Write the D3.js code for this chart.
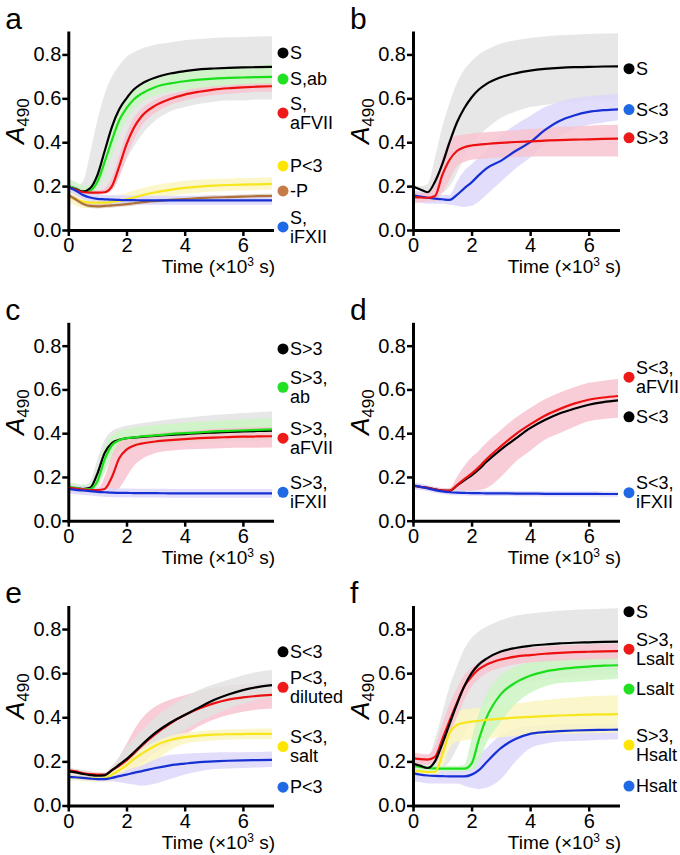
<!DOCTYPE html>
<html>
<head>
<meta charset="utf-8">
<script src="https://cdn.jsdelivr.net/npm/d3@7"></script>
<style>
  body { margin: 0; background: #fff; }
  svg { font-family: 'Liberation Sans', Arial, sans-serif; }
</style>
</head>
<body>
<div id="chart"></div>
<script>

// time points, x10^3 s
const time = [0, 0.25, 0.5, 0.75, 1, 1.25, 1.5, 1.75, 2, 2.25, 2.5, 3, 3.5, 4, 4.5, 5, 5.5, 6, 6.5, 7];

// panel a
const aS      = [0.195,0.185,0.175,0.19,0.25,0.36,0.47,0.55,0.60,0.64,0.665,0.695,0.713,0.724,0.732,0.736,0.739,0.741,0.742,0.743];
const aS_lo   = [0.19,0.18,0.17,0.17,0.17,0.18,0.20,0.25,0.32,0.38,0.43,0.50,0.54,0.56,0.575,0.585,0.59,0.59,0.595,0.595];
const aS_hi   = [0.20,0.20,0.22,0.35,0.50,0.62,0.70,0.75,0.79,0.81,0.825,0.845,0.855,0.865,0.87,0.875,0.878,0.88,0.882,0.883];
const aAb     = [0.20,0.19,0.175,0.18,0.22,0.31,0.41,0.50,0.555,0.595,0.62,0.652,0.668,0.678,0.685,0.69,0.693,0.695,0.697,0.698];
const aAb_lo  = [0.18,0.17,0.16,0.165,0.19,0.25,0.34,0.43,0.50,0.55,0.58,0.615,0.63,0.64,0.645,0.65,0.655,0.655,0.66,0.66];
const aAb_hi  = [0.23,0.22,0.20,0.21,0.27,0.37,0.47,0.55,0.60,0.635,0.66,0.69,0.71,0.72,0.73,0.735,0.74,0.745,0.75,0.755];
const aFVII   = [0.195,0.185,0.172,0.17,0.17,0.172,0.20,0.29,0.39,0.465,0.515,0.568,0.597,0.617,0.63,0.64,0.646,0.65,0.653,0.655];
const aFVII_lo= [0.18,0.17,0.16,0.16,0.16,0.165,0.18,0.24,0.33,0.41,0.47,0.535,0.57,0.59,0.605,0.615,0.62,0.625,0.63,0.63];
const aFVII_hi= [0.205,0.195,0.185,0.18,0.18,0.19,0.24,0.34,0.44,0.51,0.55,0.595,0.62,0.635,0.648,0.655,0.66,0.665,0.668,0.67];
const aP3     = [0.155,0.14,0.13,0.125,0.125,0.125,0.128,0.133,0.14,0.148,0.157,0.172,0.183,0.192,0.198,0.202,0.205,0.207,0.208,0.21];
const aP3_lo  = [0.13,0.11,0.10,0.10,0.10,0.105,0.11,0.115,0.12,0.125,0.13,0.145,0.155,0.165,0.17,0.175,0.178,0.18,0.182,0.185];
const aP3_hi  = [0.18,0.17,0.16,0.15,0.15,0.15,0.155,0.16,0.17,0.18,0.19,0.205,0.215,0.225,0.23,0.232,0.235,0.237,0.238,0.24];
const aNoP    = [0.16,0.14,0.12,0.11,0.108,0.11,0.112,0.115,0.118,0.122,0.126,0.132,0.137,0.141,0.145,0.148,0.15,0.152,0.154,0.155];
const aNoP_lo = [0.15,0.13,0.11,0.10,0.098,0.10,0.102,0.105,0.108,0.112,0.116,0.122,0.127,0.131,0.135,0.138,0.14,0.142,0.144,0.145];
const aNoP_hi = [0.17,0.15,0.13,0.12,0.118,0.12,0.122,0.125,0.128,0.132,0.136,0.142,0.147,0.151,0.155,0.158,0.16,0.162,0.164,0.165];
const aFXII   = [0.195,0.18,0.16,0.148,0.142,0.14,0.138,0.137,0.136,0.136,0.135,0.135,0.135,0.135,0.135,0.135,0.135,0.135,0.135,0.135];
const aFXII_lo= [0.175,0.16,0.14,0.125,0.12,0.118,0.116,0.115,0.115,0.115,0.115,0.115,0.115,0.115,0.115,0.115,0.115,0.115,0.115,0.115];
const aFXII_hi= [0.215,0.20,0.18,0.17,0.162,0.16,0.158,0.158,0.157,0.157,0.156,0.156,0.156,0.156,0.156,0.156,0.156,0.156,0.156,0.156];
const aLabels = [['S'], ['S,ab'], ['S,', 'aFVII'], ['P<3'], ['-P'], ['S,', 'iFXII']];

// panel b
const bS      = [0.198,0.185,0.172,0.22,0.30,0.40,0.49,0.555,0.604,0.64,0.665,0.696,0.714,0.726,0.734,0.739,0.742,0.743,0.745,0.746];
const bS_lo   = [0.19,0.18,0.17,0.17,0.17,0.20,0.26,0.33,0.39,0.43,0.46,0.51,0.54,0.56,0.57,0.58,0.585,0.59,0.59,0.59];
const bS_hi   = [0.205,0.20,0.21,0.33,0.47,0.58,0.67,0.73,0.77,0.80,0.82,0.85,0.865,0.875,0.882,0.887,0.89,0.893,0.895,0.897];
const bLt     = [0.158,0.152,0.147,0.143,0.14,0.137,0.16,0.19,0.217,0.25,0.28,0.315,0.36,0.40,0.455,0.497,0.522,0.538,0.546,0.55];
const bLt_lo  = [0.13,0.125,0.12,0.12,0.12,0.115,0.11,0.105,0.11,0.13,0.16,0.22,0.28,0.33,0.39,0.43,0.46,0.48,0.49,0.50];
const bLt_hi  = [0.18,0.175,0.17,0.165,0.16,0.16,0.22,0.27,0.30,0.33,0.36,0.43,0.48,0.52,0.56,0.585,0.60,0.61,0.615,0.62];
const bGt     = [0.15,0.148,0.147,0.155,0.25,0.32,0.36,0.377,0.385,0.389,0.392,0.397,0.401,0.404,0.407,0.41,0.412,0.413,0.415,0.416];
const bGt_lo  = [0.12,0.125,0.13,0.13,0.17,0.23,0.29,0.31,0.32,0.323,0.326,0.33,0.333,0.335,0.335,0.335,0.335,0.335,0.335,0.335];
const bGt_hi  = [0.17,0.17,0.17,0.20,0.33,0.41,0.43,0.435,0.44,0.443,0.445,0.45,0.455,0.46,0.465,0.47,0.472,0.475,0.478,0.48];
const bLabels = [['S'], ['S<3'], ['S>3']];

// panel c
const cS      = [0.15,0.148,0.145,0.15,0.215,0.31,0.355,0.37,0.377,0.38,0.383,0.388,0.392,0.396,0.40,0.403,0.406,0.408,0.41,0.412];
const cS_lo   = [0.13,0.13,0.13,0.13,0.16,0.24,0.30,0.33,0.34,0.345,0.35,0.355,0.36,0.365,0.37,0.372,0.374,0.376,0.378,0.38];
const cS_hi   = [0.17,0.165,0.16,0.18,0.28,0.37,0.41,0.425,0.435,0.44,0.445,0.455,0.463,0.47,0.477,0.483,0.488,0.492,0.496,0.50];
const cAb     = [0.155,0.15,0.145,0.145,0.18,0.28,0.345,0.368,0.377,0.381,0.385,0.39,0.396,0.40,0.404,0.408,0.411,0.413,0.415,0.417];
const cAb_lo  = [0.135,0.13,0.125,0.125,0.15,0.22,0.29,0.32,0.33,0.335,0.34,0.345,0.35,0.355,0.358,0.36,0.362,0.364,0.366,0.368];
const cAb_hi  = [0.175,0.17,0.165,0.17,0.23,0.34,0.39,0.41,0.42,0.425,0.43,0.437,0.443,0.448,0.452,0.456,0.46,0.463,0.466,0.47];
const cFVII   = [0.15,0.147,0.143,0.14,0.14,0.145,0.20,0.285,0.325,0.343,0.352,0.362,0.368,0.373,0.377,0.38,0.382,0.384,0.385,0.386];
const cFVII_lo= [0.13,0.13,0.13,0.13,0.13,0.13,0.13,0.15,0.20,0.25,0.28,0.31,0.32,0.325,0.328,0.33,0.332,0.333,0.334,0.335];
const cFVII_hi= [0.16,0.155,0.155,0.15,0.15,0.20,0.30,0.36,0.38,0.385,0.39,0.40,0.405,0.41,0.415,0.42,0.423,0.426,0.428,0.43];
const cFXII   = [0.145,0.141,0.138,0.135,0.132,0.13,0.128,0.127,0.127,0.126,0.126,0.126,0.125,0.125,0.125,0.125,0.125,0.125,0.125,0.125];
const cFXII_lo= [0.125,0.121,0.118,0.115,0.112,0.11,0.108,0.107,0.107,0.106,0.106,0.106,0.105,0.105,0.105,0.105,0.105,0.105,0.105,0.105];
const cFXII_hi= [0.165,0.161,0.158,0.155,0.152,0.15,0.148,0.147,0.147,0.146,0.146,0.146,0.145,0.145,0.145,0.145,0.145,0.145,0.145,0.145];
const cLabels = [['S>3'], ['S>3,', 'ab'], ['S>3,', 'aFVII'], ['S>3,', 'iFXII']];

// panel d
const dFVII   = [0.16,0.155,0.15,0.143,0.138,0.138,0.163,0.19,0.215,0.245,0.28,0.34,0.395,0.44,0.48,0.51,0.535,0.553,0.563,0.57];
const dFVII_lo= [0.15,0.145,0.14,0.135,0.13,0.13,0.13,0.132,0.135,0.14,0.148,0.20,0.27,0.32,0.37,0.40,0.43,0.455,0.465,0.47];
const dFVII_hi= [0.17,0.165,0.16,0.155,0.15,0.15,0.20,0.25,0.29,0.32,0.355,0.415,0.47,0.515,0.555,0.585,0.61,0.63,0.64,0.648];
const dLt     = [0.16,0.155,0.15,0.143,0.138,0.136,0.16,0.185,0.207,0.235,0.268,0.325,0.375,0.423,0.46,0.49,0.512,0.53,0.542,0.55];
const dFXII   = [0.16,0.155,0.148,0.14,0.134,0.13,0.128,0.127,0.126,0.126,0.125,0.125,0.124,0.124,0.123,0.123,0.123,0.123,0.122,0.122];
const dFXII_lo= [0.145,0.14,0.135,0.128,0.122,0.118,0.116,0.115,0.114,0.114,0.113,0.113,0.112,0.112,0.111,0.111,0.111,0.111,0.11,0.11];
const dFXII_hi= [0.175,0.17,0.162,0.152,0.146,0.142,0.14,0.139,0.138,0.138,0.137,0.137,0.136,0.136,0.135,0.135,0.135,0.135,0.134,0.134];
const dLabels = [['S<3,', 'aFVII'], ['S<3'], ['S<3,', 'iFXII']];

// panel e
const eLt     = [0.155,0.15,0.143,0.138,0.135,0.137,0.16,0.185,0.21,0.24,0.272,0.33,0.375,0.41,0.445,0.478,0.503,0.523,0.537,0.546];
const eLt_lo  = [0.14,0.135,0.13,0.125,0.125,0.127,0.13,0.14,0.15,0.18,0.21,0.26,0.30,0.34,0.38,0.41,0.44,0.46,0.48,0.49];
const eLt_hi  = [0.17,0.165,0.16,0.155,0.15,0.15,0.18,0.22,0.27,0.30,0.335,0.40,0.45,0.49,0.525,0.55,0.57,0.59,0.605,0.614];
const eDil    = [0.16,0.155,0.147,0.142,0.14,0.14,0.16,0.18,0.205,0.235,0.268,0.325,0.372,0.41,0.44,0.463,0.48,0.49,0.497,0.502];
const eDil_lo = [0.14,0.135,0.13,0.13,0.13,0.13,0.14,0.145,0.15,0.17,0.19,0.24,0.28,0.32,0.36,0.39,0.41,0.425,0.435,0.44];
const eDil_hi = [0.17,0.165,0.16,0.155,0.15,0.15,0.17,0.22,0.28,0.34,0.39,0.45,0.48,0.50,0.52,0.535,0.545,0.55,0.555,0.56];
const eSalt   = [0.13,0.128,0.125,0.123,0.122,0.123,0.14,0.16,0.182,0.21,0.232,0.272,0.297,0.31,0.317,0.321,0.323,0.324,0.325,0.325];
const eSalt_lo= [0.115,0.113,0.11,0.108,0.107,0.108,0.11,0.11,0.11,0.12,0.14,0.20,0.25,0.28,0.29,0.295,0.298,0.30,0.30,0.30];
const eSalt_hi= [0.145,0.143,0.14,0.138,0.137,0.138,0.16,0.185,0.205,0.23,0.255,0.29,0.315,0.33,0.337,0.342,0.345,0.347,0.348,0.35];
const eP3     = [0.13,0.128,0.125,0.122,0.12,0.12,0.125,0.133,0.14,0.148,0.155,0.17,0.182,0.19,0.197,0.20,0.203,0.205,0.206,0.207];
const eP3_lo  = [0.12,0.118,0.115,0.113,0.11,0.11,0.11,0.105,0.10,0.095,0.09,0.10,0.12,0.14,0.155,0.165,0.168,0.17,0.172,0.175];
const eP3_hi  = [0.14,0.138,0.135,0.133,0.13,0.13,0.135,0.145,0.16,0.17,0.18,0.21,0.23,0.235,0.238,0.24,0.241,0.242,0.243,0.245];
const eLabels = [['S<3'], ['P<3,', 'diluted'], ['S<3,', 'salt'], ['P<3']];

// panel f
const fS      = [0.19,0.18,0.17,0.20,0.28,0.37,0.46,0.54,0.60,0.64,0.665,0.698,0.714,0.724,0.73,0.735,0.738,0.74,0.742,0.743];
const fS_lo   = [0.18,0.17,0.16,0.165,0.17,0.20,0.26,0.33,0.39,0.43,0.46,0.51,0.54,0.56,0.57,0.58,0.585,0.59,0.59,0.59];
const fS_hi   = [0.20,0.20,0.21,0.30,0.42,0.54,0.63,0.71,0.76,0.79,0.81,0.84,0.86,0.87,0.877,0.883,0.887,0.89,0.892,0.894];
const fGtL    = [0.215,0.21,0.208,0.22,0.30,0.385,0.465,0.54,0.585,0.618,0.638,0.662,0.675,0.682,0.688,0.692,0.695,0.697,0.699,0.70];
const fGtL_lo = [0.19,0.185,0.185,0.19,0.24,0.32,0.40,0.48,0.54,0.575,0.60,0.625,0.64,0.648,0.653,0.657,0.66,0.662,0.664,0.665];
const fGtL_hi = [0.24,0.235,0.232,0.27,0.37,0.46,0.53,0.59,0.625,0.65,0.67,0.695,0.708,0.715,0.72,0.725,0.728,0.73,0.733,0.735];
const fL      = [0.178,0.175,0.17,0.168,0.167,0.167,0.167,0.167,0.19,0.30,0.395,0.505,0.557,0.588,0.607,0.618,0.625,0.63,0.634,0.636];
const fL_lo   = [0.16,0.158,0.156,0.155,0.155,0.155,0.155,0.155,0.16,0.20,0.28,0.38,0.46,0.51,0.54,0.555,0.56,0.565,0.57,0.575];
const fL_hi   = [0.19,0.188,0.185,0.182,0.18,0.18,0.18,0.185,0.30,0.42,0.50,0.59,0.63,0.65,0.66,0.665,0.668,0.67,0.673,0.675];
const fGtH    = [0.16,0.155,0.152,0.152,0.23,0.33,0.365,0.375,0.38,0.384,0.388,0.394,0.398,0.402,0.405,0.408,0.41,0.412,0.413,0.414];
const fGtH_lo = [0.14,0.14,0.14,0.14,0.17,0.26,0.29,0.295,0.30,0.303,0.305,0.31,0.315,0.32,0.322,0.325,0.327,0.328,0.329,0.33];
const fGtH_hi = [0.18,0.175,0.17,0.17,0.30,0.40,0.43,0.435,0.44,0.443,0.446,0.455,0.462,0.47,0.478,0.485,0.49,0.495,0.498,0.50];
const fH      = [0.147,0.14,0.136,0.134,0.133,0.132,0.132,0.132,0.14,0.16,0.195,0.26,0.302,0.325,0.333,0.337,0.34,0.342,0.343,0.344];
const fH_lo   = [0.11,0.105,0.10,0.10,0.10,0.10,0.10,0.09,0.08,0.075,0.08,0.12,0.20,0.26,0.28,0.29,0.293,0.295,0.298,0.30];
const fH_hi   = [0.16,0.16,0.16,0.16,0.16,0.16,0.16,0.17,0.20,0.23,0.26,0.32,0.35,0.36,0.365,0.37,0.37,0.37,0.37,0.37];
const fLabels = [['S'], ['S>3,', 'Lsalt'], ['Lsalt'], ['S>3,', 'Hsalt'], ['Hsalt']];

const yTicks = [0, 0.2, 0.4, 0.6, 0.8];
const xTicks = [0, 2, 4, 6];

// colours
const col = {
  k: { line: '#000000', band: '#e2e3e2', dot: '#000000' },
  g: { line: '#18df18', band: '#cdf5c4', dot: '#22e022' },
  r: { line: '#ec1010', band: '#f7c4d0', dot: '#ee1a1a' },
  y: { line: '#f7e61a', band: '#fbf6c2', dot: '#ffe600' },
  n: { line: '#b0703a', band: '#dccbb8', dot: '#c57c49' },
  b: { line: '#1630d4', band: '#dcd7fa', dot: '#1f6ae4' }
};

// layout: plot x range per column, y of 0 and 0.9 per row
const colX = [[68.3, 272], [413, 618]];
const rowY = [[230, 32.5], [520.7, 323.8], [805.5, 607]];

const panels = [
  { name: 'a', c: 0, r: 0,
    bands: [[aS_lo, aS_hi, 'k'], [aAb_lo, aAb_hi, 'g'], [aFVII_lo, aFVII_hi, 'r'], [aP3_lo, aP3_hi, 'y'], [aNoP_lo, aNoP_hi, 'n'], [aFXII_lo, aFXII_hi, 'b']],
    lines: [[aAb, 'g'], [aS, 'k'], [aFVII, 'r'], [aP3, 'y'], [aNoP, 'n'], [aFXII, 'b']],
    labels: aLabels, keys: ['k', 'g', 'r', 'y', 'n', 'b'], legY: [0.807, 0.688, 0.533, 0.292, 0.178, 0.014] },
  { name: 'b', c: 1, r: 0,
    bands: [[bS_lo, bS_hi, 'k'], [bLt_lo, bLt_hi, 'b'], [bGt_lo, bGt_hi, 'r']],
    lines: [[bS, 'k'], [bLt, 'b'], [bGt, 'r']],
    labels: bLabels, keys: ['k', 'b', 'r'], legY: [0.735, 0.549, 0.42] },
  { name: 'c', c: 0, r: 1,
    bands: [[cS_lo, cS_hi, 'k'], [cAb_lo, cAb_hi, 'g'], [cFVII_lo, cFVII_hi, 'r'], [cFXII_lo, cFXII_hi, 'b']],
    lines: [[cS, 'k'], [cAb, 'g'], [cFVII, 'r'], [cFXII, 'b']],
    labels: cLabels, keys: ['k', 'g', 'r', 'b'], legY: [0.785, 0.61, 0.377, 0.13] },
  { name: 'd', c: 1, r: 1,
    bands: [[dFVII_lo, dFVII_hi, 'r'], [dFXII_lo, dFXII_hi, 'b']],
    lines: [[dLt, 'k'], [dFVII, 'r'], [dFXII, 'b']],
    labels: dLabels, keys: ['r', 'k', 'b'], legY: [0.656, 0.475, 0.128] },
  { name: 'e', c: 0, r: 2,
    bands: [[eDil_lo, eDil_hi, 'r'], [eLt_lo, eLt_hi, 'k'], [eSalt_lo, eSalt_hi, 'y'], [eP3_lo, eP3_hi, 'b']],
    lines: [[eDil, 'r'], [eSalt, 'y'], [eP3, 'b'], [eLt, 'k']],
    labels: eLabels, keys: ['k', 'r', 'y', 'b'], legY: [0.697, 0.536, 0.267, 0.083] },
  { name: 'f', c: 1, r: 2,
    bands: [[fS_lo, fS_hi, 'k'], [fH_lo, fH_hi, 'b'], [fGtH_lo, fGtH_hi, 'y'], [fL_lo, fL_hi, 'g'], [fGtL_lo, fGtL_hi, 'r']],
    lines: [[fL, 'g'], [fGtH, 'y'], [fH, 'b'], [fGtL, 'r'], [fS, 'k']],
    labels: fLabels, keys: ['k', 'r', 'g', 'y', 'b'], legY: [0.879, 0.709, 0.528, 0.274, 0.088] }
];

const svg = d3.select('#chart')
              .append('svg')
              .attr('width', 680)
              .attr('height', 855);

const drawPanel = (p) => {
    const [x0, x1] = colX[p.c];
    const [y0, y1] = rowY[p.r];

    const xScale = d3.scaleLinear().domain([0, 7]).range([x0, x1]);
    const yScale = d3.scaleLinear().domain([0, 0.9]).range([y0, y1]);

    const g = svg.append('g');

    const area = (lo, hi) => d3.area()
        .x((d, i) => xScale(time[i]))
        .y0((d, i) => yScale(lo[i]))
        .y1((d, i) => yScale(hi[i]))
        .curve(d3.curveMonotoneX)(time);

    const line = d3.line()
        .x(d => xScale(d[0]))
        .y(d => yScale(d[1]))
        .curve(d3.curveMonotoneX);

    g.selectAll('path.band')
     .data(p.bands)
     .enter()
     .append('path')
     .attr('class', 'band')
     .attr('d', d => area(d[0], d[1]))
     .attr('fill', d => col[d[2]].band)
     .attr('fill-opacity', 0.85);

    g.selectAll('path.mean')
     .data(p.lines)
     .enter()
     .append('path')
     .attr('class', 'mean')
     .attr('d', d => line(d3.zip(time, d[0])))
     .attr('fill', 'none')
     .attr('stroke', d => col[d[1]].line)
     .attr('stroke-width', 2.2);

    // axes
    const xAxis = g.append('g')
        .attr('transform', `translate(0, ${y0})`)
        .call(d3.axisBottom(xScale).tickValues(xTicks).tickFormat(d3.format('d')).tickSize(6).tickSizeOuter(0).tickPadding(2));
    const yAxis = g.append('g')
        .attr('transform', `translate(${x0}, 0)`)
        .call(d3.axisLeft(yScale).tickValues(yTicks).tickFormat(d3.format('.1f')).tickSize(6).tickSizeOuter(0).tickPadding(1));

    [xAxis, yAxis].forEach(ax => {
        ax.attr('font-family', null).attr('font-size', null);
        ax.select('.domain').attr('stroke-width', 3).attr('stroke-linecap', 'square');
        ax.selectAll('.tick line').attr('stroke-width', 2.5);
        ax.selectAll('.tick text').attr('font-size', 20).attr('fill', '#000');
    });

    // x title
    g.append('text')
     .attr('x', x1 + 3)
     .attr('y', y0 + 43)
     .attr('text-anchor', 'end')
     .attr('font-size', 19)
     .html('Time (×10<tspan dy="-7" font-size="12">3</tspan><tspan dy="7"> s)</tspan>');

    // y title
    const yt = g.append('text')
     .attr('transform', `translate(${x0 - 44}, ${(y0 + y1) / 2 - 10}) rotate(-90)`)
     .attr('text-anchor', 'middle');
    yt.append('tspan').attr('font-size', 26).attr('font-style', 'italic').text('A');
    yt.append('tspan').attr('font-size', 17).attr('dy', 5).text('490');

    // panel letter
    g.append('text')
     .attr('x', x0 - 63)
     .attr('y', y1 - 4)
     .attr('font-size', 30)
     .text(p.name);

    // legend
    p.labels.forEach((lab, i) => {
        const cy = yScale(p.legY[i]);
        g.append('circle')
         .attr('cx', x1 + 11)
         .attr('cy', cy)
         .attr('r', 5.5)
         .attr('fill', col[p.keys[i]].dot);
        const t = g.append('text')
         .attr('x', x1 + 18)
         .attr('y', cy - (lab.length - 1) * 9.5)
         .attr('font-size', 18);
        lab.forEach((s, j) => {
            t.append('tspan')
             .attr('x', x1 + 18)
             .attr('dy', j === 0 ? '0.35em' : 19)
             .text(s);
        });
    });
};

panels.forEach(drawPanel);

</script>
</body>
</html>
